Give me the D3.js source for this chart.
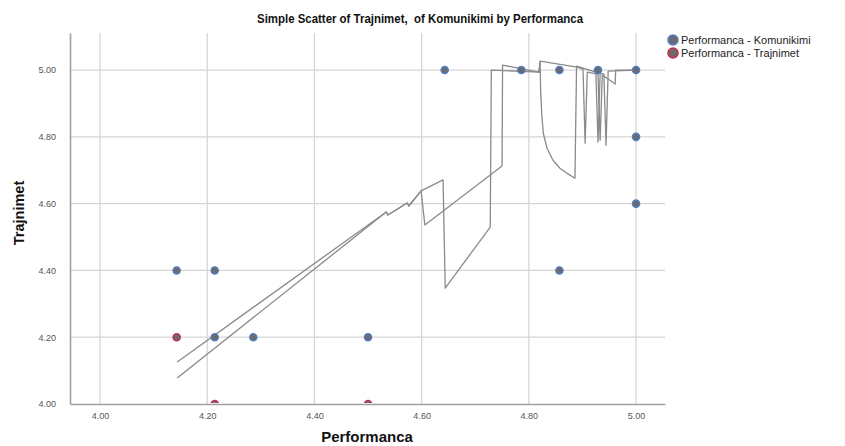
<!DOCTYPE html>
<html>
<head>
<meta charset="utf-8">
<script src="https://cdnjs.cloudflare.com/ajax/libs/d3/7.8.5/d3.min.js"></script>
<style>
  body { margin: 0; background: #ffffff; }
  text { font-family: "Liberation Sans", Arial, sans-serif; }
</style>
</head>
<body>
<div id="chart"></div>
<script>
// points: Komunikimi vs Performanca
const komX = [4.143, 4.214, 4.214, 4.286, 4.500, 4.643, 4.786, 4.857, 4.929, 5.000, 5.000, 5.000, 4.857];
const komY = [4.40, 4.40, 4.20, 4.20, 4.20, 5.00, 5.00, 5.00, 5.00, 5.00, 4.80, 4.60, 4.40];
// points: Trajnimet vs Performanca (only the ones not hidden)
const trajX = [4.143, 4.214, 4.500];
const trajY = [4.20, 4.00, 4.00];

// fit lines
const fitAX = [4.144, 4.534, 4.537, 4.573, 4.576, 4.599, 4.640, 4.644, 4.728, 4.730, 4.819, 4.821, 4.890, 4.901, 4.905, 4.909, 4.929, 4.933, 4.937, 4.961, 4.962, 5.000];
const fitAY = [4.126, 4.575, 4.566, 4.602, 4.593, 4.638, 4.671, 4.347, 4.530, 5.000, 4.994, 5.027, 5.009, 5.003, 4.781, 4.994, 4.988, 4.790, 4.985, 4.958, 5.000, 5.000];
const fitBX = [4.144, 4.534, 4.537, 4.573, 4.576, 4.599, 4.606, 4.750, 4.751, 4.819, 4.821, 4.822, 4.824, 4.827, 4.834, 4.845, 4.858, 4.872, 4.886, 4.889, 4.925, 4.929, 4.933, 4.940, 4.944, 4.948, 5.000];
const fitBY = [4.078, 4.575, 4.566, 4.602, 4.593, 4.638, 4.536, 4.713, 5.015, 4.994, 5.024, 4.940, 4.870, 4.810, 4.766, 4.730, 4.706, 4.690, 4.676, 5.012, 4.994, 4.784, 4.991, 4.988, 4.775, 4.997, 5.000];

const xTicks = [4.0, 4.2, 4.4, 4.6, 4.8, 5.0];
const yTicks = [4.0, 4.2, 4.4, 4.6, 4.8, 5.0];
const legendLabels = ["Performanca - Komunikimi", "Performanca - Trajnimet"];

const W = 845, H = 446;
const plot = {left: 70, right: 665, top: 33, bottom: 404};
const BLUE = "#4f7fc8", RED = "#d0284f", DOT = "#6b6b6b";

const svg = d3.select("#chart").append("svg")
    .attr("width", W)
    .attr("height", H);
svg.append("rect").attr("width", W).attr("height", H).attr("fill", "#ffffff");

let x = d3.scaleLinear().domain([3.944, 5.054]).range([plot.left, plot.right]);
let y = d3.scaleLinear().domain([4.0, 5.111]).range([plot.bottom, plot.top]);

// grid
svg.append("g").selectAll("line.vg")
    .data(xTicks)
    .enter().append("line")
    .attr("x1", d => x(d)).attr("x2", d => x(d))
    .attr("y1", plot.top).attr("y2", plot.bottom)
    .attr("stroke", "#d6d6d6").attr("stroke-width", 1.3);
svg.append("g").selectAll("line.hg")
    .data(yTicks.filter(d => d > 4.0))
    .enter().append("line")
    .attr("x1", plot.left).attr("x2", plot.right)
    .attr("y1", d => y(d)).attr("y2", d => y(d))
    .attr("stroke", "#d6d6d6").attr("stroke-width", 1.3);

// axes
let xAxis = d3.axisBottom(x).tickValues(xTicks).tickSize(0).tickPadding(9).tickFormat(d3.format(".2f"));
let yAxis = d3.axisLeft(y).tickValues(yTicks).tickSize(0).tickPadding(14).tickFormat(d3.format(".2f"));

let xAxisEL = svg.append("g")
    .attr("transform", "translate(0," + plot.bottom + ")")
    .call(xAxis);
let yAxisEL = svg.append("g")
    .attr("transform", "translate(" + plot.left + ",0)")
    .call(yAxis);
[xAxisEL, yAxisEL].forEach(function (a) {
    a.select(".domain").attr("stroke", "#a0a0a0").attr("stroke-width", 1.6);
    a.selectAll("text").attr("fill", "#555").style("font-size", "9px");
});

// clip for marks
svg.append("clipPath").attr("id", "plotclip")
    .append("rect")
    .attr("x", plot.left).attr("y", plot.top)
    .attr("width", plot.right - plot.left).attr("height", plot.bottom - plot.top - 1);

let marks = svg.append("g").attr("clip-path", "url(#plotclip)");

// fit lines
let line = d3.line().x(d => x(d[0])).y(d => y(d[1]));
[[fitAX, fitAY], [fitBX, fitBY]].forEach(function (s) {
    marks.append("path")
        .datum(s[0].map((v, i) => [v, s[1][i]]))
        .attr("d", line)
        .attr("fill", "none")
        .attr("stroke", "#8a8a8a")
        .attr("stroke-width", 1.3)
        .attr("stroke-linejoin", "round");
});

// points
marks.selectAll(".traj")
    .data(trajX.map((v, i) => [v, trajY[i]]))
    .enter().append("circle")
    .attr("cx", d => x(d[0])).attr("cy", d => y(d[1])).attr("r", 3.6)
    .attr("fill", DOT).attr("stroke", RED).attr("stroke-width", 1.4);
marks.selectAll(".kom")
    .data(komX.map((v, i) => [v, komY[i]]))
    .enter().append("circle")
    .attr("cx", d => x(d[0])).attr("cy", d => y(d[1])).attr("r", 3.6)
    .attr("fill", DOT).attr("stroke", BLUE).attr("stroke-width", 1.4);

// title (narrow in the original, so squeeze it a little)
svg.append("text")
    .attr("x", 420).attr("y", 23)
    .attr("text-anchor", "middle")
    .attr("textLength", 326)
    .attr("lengthAdjust", "spacingAndGlyphs")
    .style("font-size", "13px").style("font-weight", "bold")
    .attr("fill", "#111")
    .text("Simple Scatter of Trajnimet,\u00a0 of Komunikimi by Performanca");

// axis titles
svg.append("text")
    .attr("x", 367).attr("y", 442)
    .attr("text-anchor", "middle")
    .style("font-size", "15px").style("font-weight", "bold")
    .attr("fill", "#111")
    .text("Performanca");
svg.append("text")
    .attr("transform", "translate(24,213) rotate(-90)")
    .attr("text-anchor", "middle")
    .style("font-size", "14.5px").style("font-weight", "bold")
    .attr("fill", "#111")
    .text("Trajnimet");

// legend
let legend = svg.append("g").attr("transform", "translate(673,40)");
legendLabels.forEach(function (lab, i) {
    legend.append("circle")
        .attr("cx", 0).attr("cy", i * 13).attr("r", 5)
        .attr("fill", DOT).attr("stroke", i === 0 ? BLUE : RED).attr("stroke-width", 1.6);
    legend.append("text")
        .attr("x", 8).attr("y", i * 13 + 4)
        .style("font-size", "11px")
        .attr("fill", "#222")
        .text(lab);
});
</script>
</body>
</html>
